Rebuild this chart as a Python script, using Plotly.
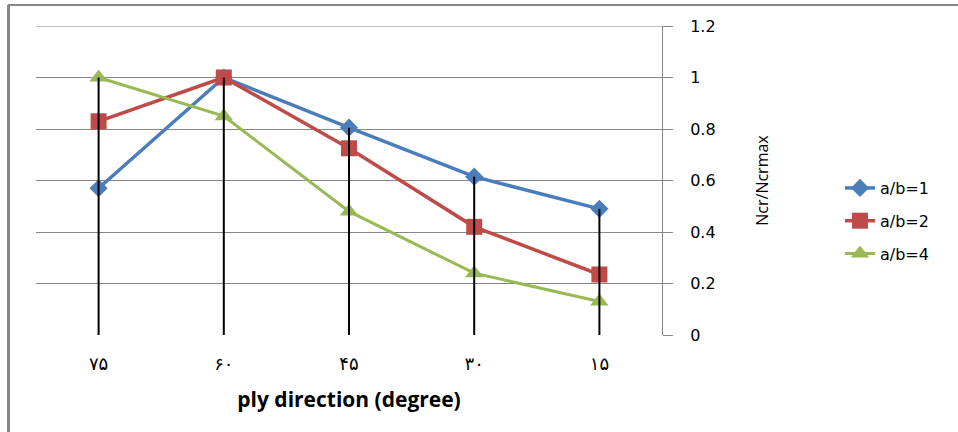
import plotly.graph_objects as go

# ply direction categories (Persian digits) and normalised buckling load Ncr/Ncrmax
categories = ["۷۵", "۶۰", "۴۵", "۳۰", "۱۵"]
ab1 = [0.57, 1.0, 0.805, 0.615, 0.49]
ab2 = [0.83, 1.0, 0.725, 0.42, 0.235]
ab4 = [1.0, 0.85, 0.48, 0.24, 0.13]
series_names = ["a/b=1", "a/b=2", "a/b=4"]
y_ticks = [0, 0.2, 0.4, 0.6, 0.8, 1.0, 1.2]

W, H = 958, 432
L, R, T, B = 36, 296, 26, 97
plot_w = W - L - R
plot_h = H - T - B

fig = go.Figure()

styles = [
    dict(color="#4A7EBB", symbol="diamond", size=14, width=3.5),
    dict(color="#BE4B48", symbol="square", size=16, width=3.5),
    dict(color="#98B954", symbol="triangle-up", size=16, width=3.0),
]
for name, vals, st in zip(series_names, [ab1, ab2, ab4], styles):
    fig.add_trace(go.Scatter(
        x=categories, y=vals, name=name, mode="lines+markers",
        line=dict(color=st["color"], width=st["width"]),
        marker=dict(symbol=st["symbol"], size=st["size"], color=st["color"]),
        legendgroup=name,
    ))

# drop lines from the highest point of each category down to the axis
drop_x, drop_y = [], []
for c, vals in zip(categories, zip(ab1, ab2, ab4)):
    drop_x += [c, c, None]
    drop_y += [max(vals), 0, None]
fig.add_trace(go.Scatter(
    x=drop_x, y=drop_y, mode="lines", showlegend=False, hoverinfo="skip",
    line=dict(color="black", width=2),
))

def px_to_paper_x(px):
    return (px - L) / plot_w

def px_to_paper_y(py):
    return (H - B - py) / plot_h

# top gridline sits on the plot edge, so draw it explicitly
fig.add_shape(type="line", xref="paper", yref="y", layer="below",
              x0=0, x1=1, y0=y_ticks[-1], y1=y_ticks[-1],
              line=dict(color="#868686", width=1))

# outer frame: top and left edges
fig.add_shape(type="line", xref="paper", yref="paper",
              x0=px_to_paper_x(8), x1=px_to_paper_x(958),
              y0=px_to_paper_y(5), y1=px_to_paper_y(5),
              line=dict(color="#868686", width=2))
fig.add_shape(type="line", xref="paper", yref="paper",
              x0=px_to_paper_x(8.5), x1=px_to_paper_x(8.5),
              y0=px_to_paper_y(5), y1=px_to_paper_y(432),
              line=dict(color="#868686", width=3))

fig.update_layout(
    width=W, height=H,
    margin=dict(l=L, r=R, t=T, b=B),
    paper_bgcolor="white", plot_bgcolor="white",
    showlegend=True,
    legend=dict(
        x=px_to_paper_x(840), y=px_to_paper_y(171), xanchor="left", yanchor="top",
        font=dict(family="DejaVu Sans", size=16, color="black"),
        tracegroupgap=9, bgcolor="rgba(0,0,0,0)",
    ),
    xaxis=dict(
        type="category", categoryorder="array", categoryarray=categories,
        range=[-0.5, 4.5], showgrid=False, zeroline=False, showline=False,
        ticks="", ticklabelstandoff=16,
        tickfont=dict(family="DejaVu Sans", size=18, color="black"),
        title=dict(text="ply direction (degree)", standoff=19,
                   font=dict(family="Open Sans", size=21, color="black", weight="bold")),
    ),
    yaxis=dict(
        side="right", range=[0, 1.2], tickvals=y_ticks,
        showgrid=True, gridcolor="#868686", gridwidth=1,
        zeroline=True, zerolinecolor="white", zerolinewidth=1,
        showline=True, linecolor="#868686", linewidth=1,
        ticks="outside", ticklen=10, tickcolor="#868686", ticklabelstandoff=14,
        tickfont=dict(family="DejaVu Sans", size=16, color="black"),
        title=dict(text="Ncr/Ncrmax", standoff=42,
                   font=dict(family="Open Sans", size=16, color="black")),
    ),
)

fig.write_html("out.html")
